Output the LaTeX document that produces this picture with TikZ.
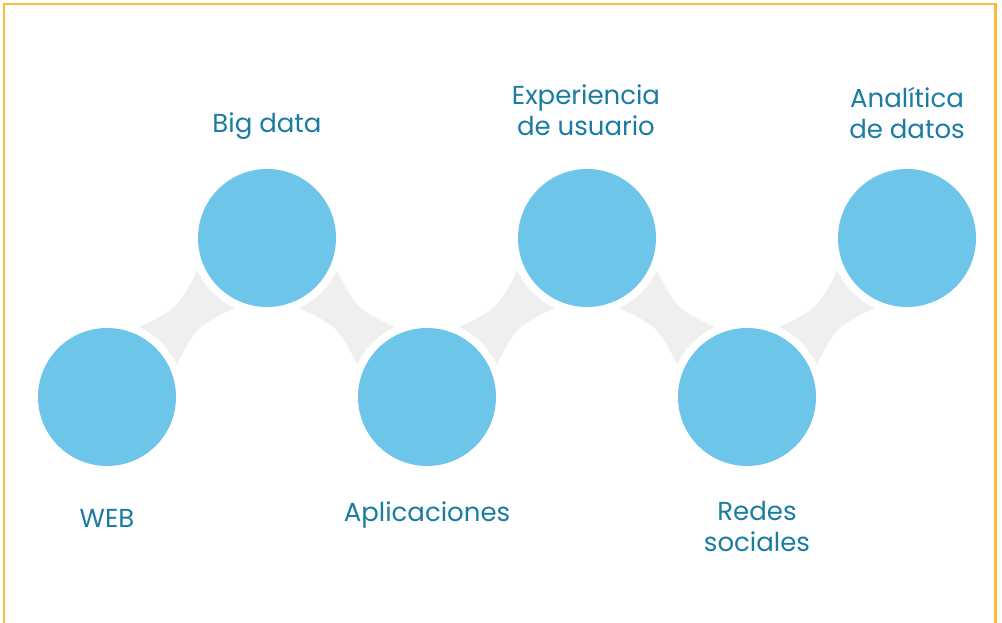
\documentclass[tikz,border=0pt]{standalone}
\usepackage{fontspec}
\setmainfont{Poppins}
\usetikzlibrary{calc,backgrounds}
\definecolor{bubblec}{HTML}{6DC5EA}
\definecolor{txtc}{HTML}{1B7CA2}
\definecolor{linkc}{HTML}{EFEFEF}
\definecolor{framec}{HTML}{FDBA35}
\begin{document}
\begin{tikzpicture}[x=1pt,y=1pt,
  bubble/.style={circle,fill=bubblec,minimum size=138pt,inner sep=0pt},
  lbl/.style={text=txtc,font=\fontsize{26}{31}\selectfont,align=center,inner sep=0pt},
  linkfill/.style={fill=linkc},
  halo/.style={fill=white}]
\useasboundingbox (0,0) rectangle (1002,623);
\node[bubble] (c1) at (107,226) {};
\node[bubble] (c2) at (267,385) {};
\node[bubble] (c3) at (427,226) {};
\node[bubble] (c4) at (587,385) {};
\node[bubble] (c5) at (747,226) {};
\node[bubble] (c6) at (907,385) {};
\begin{pgfonlayer}{background}
  \fill[white] (0,0) rectangle (1002,623);
  \draw[framec,line width=2.5pt] (4,-20) rectangle (995.5,619);
  \foreach \a/\b/\ang in {c1/c2/45, c2/c3/-45, c3/c4/45, c4/c5/-45, c5/c6/45} {
    \coordinate (m) at ($(\a.center)!0.5!(\b.center)$);
    \coordinate (pL) at ($(\a.center)+({\ang+20}:77)$);
    \coordinate (pT) at ($(\b.center)+({\ang+160}:77)$);
    \coordinate (pR) at ($(\b.center)+({\ang+200}:77)$);
    \coordinate (pB) at ($(\a.center)+({\ang-20}:77)$);
    \coordinate (q1) at ($(pL)!0.5!(pT)$);
    \coordinate (q2) at ($(pR)!0.5!(pB)$);
    \fill[linkfill] (pL) .. controls ($(q1)!0.5!(m)$) .. (pT)
      -- (pR) .. controls ($(q2)!0.5!(m)$) .. (pB) -- cycle;
  }
  \foreach \c in {c1,c2,c3,c4,c5,c6} {
    \fill[halo] (\c.center) circle (77);
  }
\end{pgfonlayer}
\node[lbl] (t1) at (107,105) {WEB};
\node[lbl] (t2) at (267,497) {Big data};
\node[lbl] (t3) at (427,108) {Aplicaciones};
\node[lbl] (t4) at (586,512.5) {Experiencia\\de usuario};
\node[lbl] (t5) at (757,96.5) {Redes\\sociales};
\node[lbl] (t6) at (907,510.5) {Analítica\\de datos};
\end{tikzpicture}
\end{document}
